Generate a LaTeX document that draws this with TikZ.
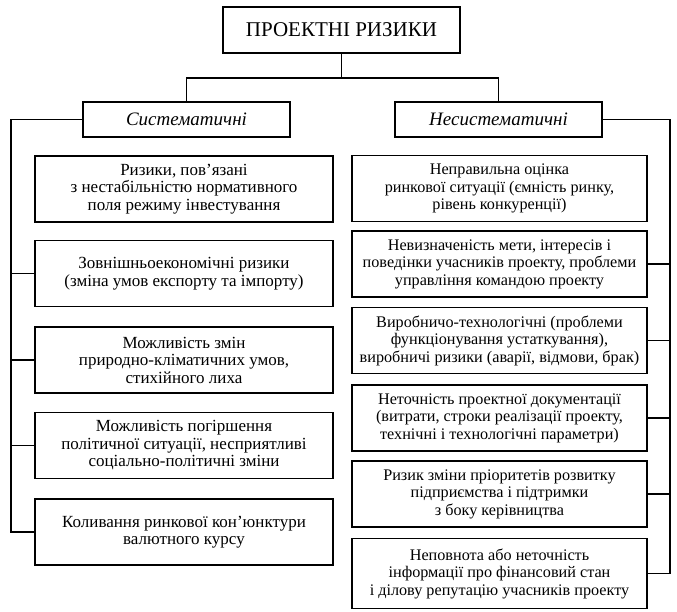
\documentclass[tikz,border=0pt]{standalone}
\usepackage{fontspec}
\setmainfont{Liberation Serif}
\usetikzlibrary{positioning}

\begin{document}
\begin{tikzpicture}[x=1pt,y=-1pt,line width=1.5pt,
  titlebox/.style={draw, minimum width=237pt, minimum height=46pt, inner sep=0pt, font=\fontsize{21}{23}\selectfont},
  headbox/.style={draw, minimum width=207pt, minimum height=35pt, inner sep=0pt, font=\fontsize{19}{21}\itshape},
  riskbox/.style={draw, align=center, inner sep=0pt, minimum height=66pt, font=\fontsize{17}{17.5}\selectfont},
  leftbox/.style={riskbox, minimum width=298pt},
  rightbox/.style={riskbox, minimum width=295pt, font=\fontsize{16.2}{17.5}\selectfont},
  link/.style={line width=1.4pt}]
  \useasboundingbox (0,0) rectangle (677,612);

  \node (top)    [titlebox] at (341.5,30) {ПРОЕКТНІ РИЗИКИ};
  \node (sys)    [headbox] at (186.5,119.5) {Систематичні};
  \node (nonsys) [headbox] at (498.5,119.5) {Несистематичні};

  % систематичні
  \node (l1) [leftbox] at (184,189) {Ризики, пов’язані\\з нестабільністю нормативного\\поля режиму інвестування};
  \node (l2) [leftbox] at (184,273.5) {Зовнішньоекономічні ризики\\(зміна умов експорту та імпорту)};
  \node (l3) [leftbox] at (184,360) {Можливість змін\\природно-кліматичних умов,\\стихійного лиха};
  \node (l4) [leftbox] at (184,445.5) {Можливість погіршення\\політичної ситуації, несприятливі\\соціально-політичні зміни};
  \node (l5) [leftbox] at (184,532) {Коливання ринкової кон’юнктури\\валютного курсу};

  % несистематичні
  \node (r1) [rightbox] at (499.5,188.5) {Неправильна оцінка\\ринкової ситуації (ємність ринку,\\рівень конкуренції)};
  \node (r2) [rightbox] at (499.5,264) {Невизначеність мети, інтересів і\\поведінки учасників проекту, проблеми\\управління командою проекту};
  \node (r3) [rightbox] at (499.5,340.5) {Виробничо-технологічні (проблеми\\функціонування устаткування),\\виробничі ризики (аварії, відмови, брак)};
  \node (r4) [rightbox] at (499.5,418) {Неточність проектної документації\\(витрати, строки реалізації проекту,\\технічні і технологічні параметри)};
  \node (r5) [rightbox] at (499.5,494) {Ризик зміни пріоритетів розвитку\\підприємства і підтримки\\з боку керівництва};
  \node (r6) [rightbox, minimum height=70pt] at (499.5,573.5) {Неповнота або неточність\\інформації про фінансовий стан\\і ділову репутацію учасників проекту};

  \coordinate (jn) at (341.5,78);
  \coordinate (lb) at (11,121);
  \coordinate (rb) at (670,121);

  \draw[link] (top.south) -- (jn);
  \draw[link] (sys.north) |- (jn) -| (nonsys.north);
  \draw[link] (sys.west) -- (sys.west -| lb) |- (l5.west);
  \draw[link] (nonsys.east) -- (nonsys.east -| rb) |- (r6.east);
  \foreach \n in {l2,l3,l4}
    \draw[link] (\n.west) -- (\n.west -| lb);
  \foreach \n in {r2,r3,r4,r5}
    \draw[link] (\n.east) -- (\n.east -| rb);
\end{tikzpicture}
\end{document}
